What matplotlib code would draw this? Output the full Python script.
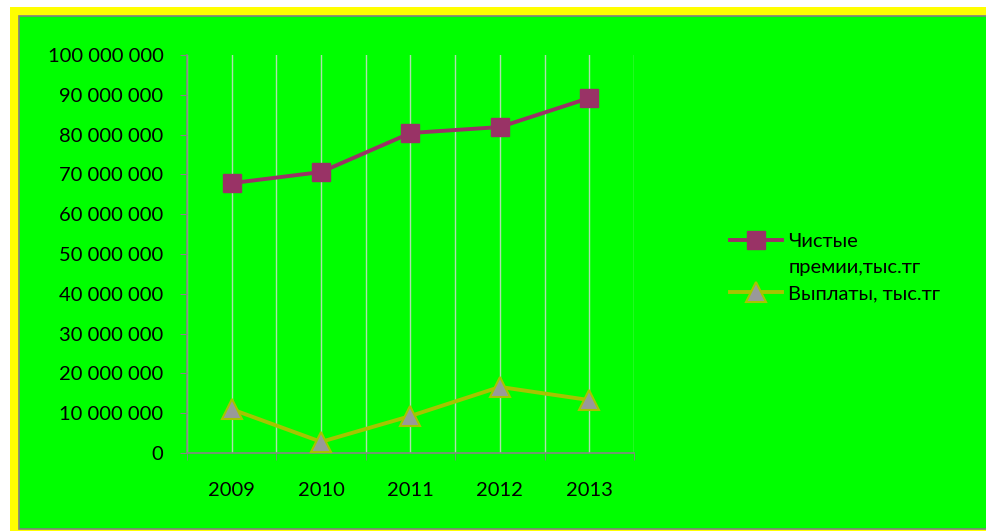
import matplotlib
matplotlib.use("Agg")
import matplotlib.pyplot as plt
from matplotlib.patches import Rectangle
from matplotlib.lines import Line2D
from matplotlib.ticker import FuncFormatter, FixedLocator

plt.rcParams['font.family'] = ['Lato', 'DejaVu Sans']

# Data
years = ['2009', '2010', '2011', '2012', '2013']
net_premiums = [67800000, 70600000, 80400000, 81900000, 89200000]
payouts = [11000000, 2800000, 9300000, 16600000, 13300000]
label_premiums = 'Чистые\nпремии,тыс.тг'
label_payouts = 'Выплаты, тыс.тг'

W, H = 987, 531
fig = plt.figure(figsize=(W / 100, H / 100), dpi=100)
fig.patch.set_facecolor('white')


def px(x0, y0, x1, y1):
    # pixel box (top-left origin) -> figure fraction
    return (x0 / W, 1 - y1 / H, (x1 - x0) / W, (y1 - y0) / H)


# Yellow frame and green chart area
fx, fy, fw, fh = px(10, 7, W, H)
fig.patches.append(Rectangle((fx, fy), fw, fh, transform=fig.transFigure,
                             facecolor='#ffff00', edgecolor='none', zorder=0))
gx, gy, gw, gh = px(19.5, 16, W + 2, 529)
fig.patches.append(Rectangle((gx, gy), gw, gh, transform=fig.transFigure,
                             facecolor='#00ff00', edgecolor='#808080', lw=1.2, zorder=1))

ax = fig.add_axes(px(187, 55, 634, 453))
ax.set_facecolor('none')
ax.set_zorder(3)

x = list(range(len(years)))
ax.plot(x, net_premiums, color='#993366', lw=2.8, marker='s', markersize=13,
        markerfacecolor='#993366', markeredgecolor='#993366', zorder=5,
        label=label_premiums)
ax.plot(x, payouts, color='#a5c400', lw=2.8, marker='^', markersize=14,
        markerfacecolor='#999999', markeredgecolor='#a5c400', markeredgewidth=1.5,
        zorder=5, label=label_payouts)

ax.set_xlim(-0.5, len(years) - 0.5)
ax.set_ylim(0, 100000000)
ax.set_xticks(x)
ax.set_xticklabels(years)
bounds = [i - 0.5 for i in range(len(years) + 1)]
ax.xaxis.set_minor_locator(FixedLocator(bounds))
ax.set_yticks(range(0, 100000001, 10000000))
ax.yaxis.set_major_formatter(FuncFormatter(lambda v, p: f'{int(v):,}'.replace(',', ' ')))

ax.grid(axis='x', which='both', color='#d9d9d9', lw=1, alpha=0.8)
ax.set_axisbelow(True)

for s in ['top', 'right']:
    ax.spines[s].set_visible(False)
for s in ['left', 'bottom']:
    ax.spines[s].set_color('#868686')
    ax.spines[s].set_linewidth(1.2)

ax.tick_params(axis='x', which='major', length=0, pad=21, labelsize=14.5)
ax.tick_params(axis='x', which='minor', length=5, color='#868686', direction='out')
ax.tick_params(axis='y', length=5, color='#868686', direction='out', pad=12, labelsize=14.5)

# Legend: the second text line gets an empty handle so the marker sits on the first line
h1, h2 = ax.get_lines()
first, second = label_premiums.split('\n')
blank = Line2D([], [], color='none')
leg = fig.legend([h1, blank, h2], [first, second, label_payouts],
                 loc='upper left', bbox_to_anchor=(730 / W, 1 - 233 / H),
                 frameon=False, fontsize=14.5, handlelength=2.6, handletextpad=0.3,
                 labelspacing=0.45, borderpad=0, borderaxespad=0)
leg.set_zorder(4)

fig.savefig('out.png', dpi=100, facecolor='white')
